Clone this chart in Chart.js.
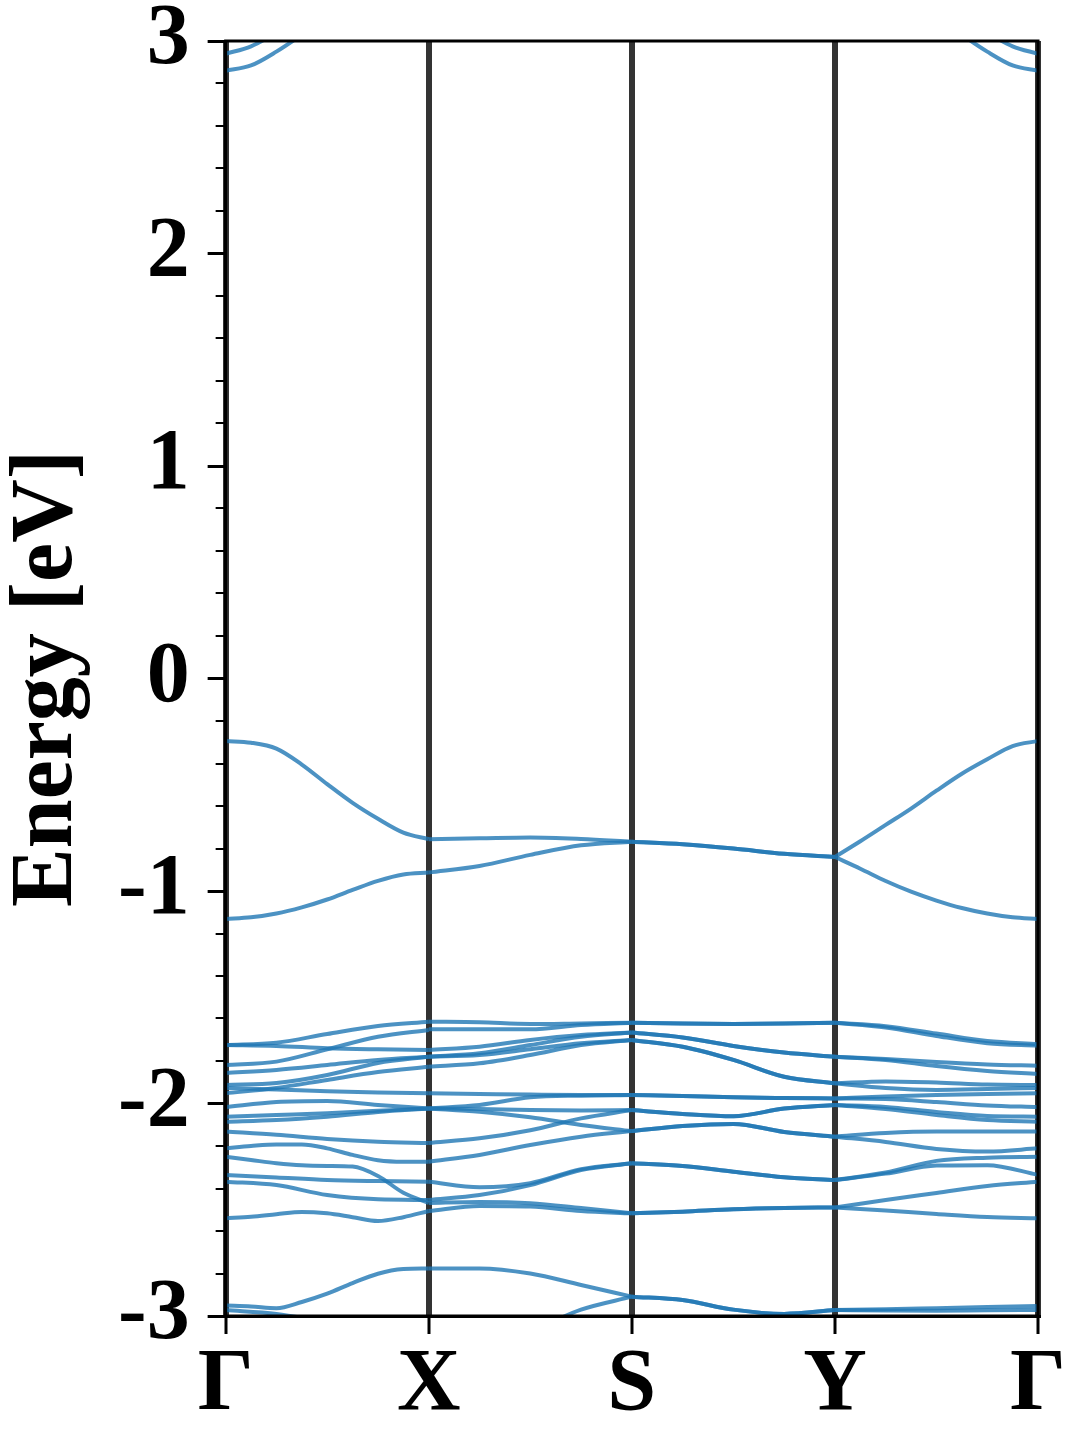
<!DOCTYPE html>
<html>
<head>
<meta charset="utf-8">
<script src="https://cdn.jsdelivr.net/npm/chart.js@4.4.1/dist/chart.umd.min.js"></script>
<style>
  html, body { margin: 0; padding: 0; background: #fff; }
  #wrap { width: 1080px; height: 1440px; }
</style>
</head>
<body>
<div id="wrap"><canvas id="bands" width="1080" height="1440"></canvas></div>
<script>
// High-symmetry path and axis ticks
const kLabels = ["Γ", "X", "S", "Y", "Γ"];
const kTicks = [0, 1, 2, 3, 4];
const energyTicks = [-3, -2, -1, 0, 1, 2, 3];
const minorStep = 0.2;

// Band energies (eV), sampled evenly along each segment of the path
const bandsGX = [
  [2.94, 2.975, 3.04, 3.12, 3.21, 3.30, 3.38, 3.44, 3.47],
  [2.86, 2.885, 2.95, 3.03, 3.12, 3.22, 3.32, 3.40, 3.45],
  [-0.294, -0.302, -0.330, -0.405, -0.497, -0.585, -0.660, -0.725, -0.756],
  [-1.132, -1.124, -1.106, -1.077, -1.040, -0.995, -0.952, -0.922, -0.913],
  [-1.725, -1.714, -1.673, -1.635, -1.615],
  [-1.725, -1.729, -1.740, -1.745, -1.748],
  [-1.819, -1.803, -1.745, -1.686, -1.654],
  [-1.857, -1.842, -1.819, -1.795, -1.780],
  [-1.913, -1.904, -1.866, -1.809, -1.780],
  [-1.952, -1.927, -1.889, -1.852, -1.827],
  [-1.927, -1.934, -1.942, -1.948, -1.952],
  [-2.017, -1.993, -1.988, -2.007, -2.023],
  [-2.062, -2.054, -2.046, -2.034, -2.023],
  [-2.086, -2.078, -2.062, -2.040, -2.023],
  [-2.132, -2.147, -2.167, -2.180, -2.186],
  [-2.211, -2.200, -2.193, -2.193, -2.211, -2.242, -2.267, -2.274, -2.274],
  [-2.251, -2.266, -2.281, -2.291, -2.294, -2.297, -2.341, -2.420, -2.468],
  [-2.336, -2.348, -2.360, -2.365, -2.368],
  [-2.368, -2.384, -2.431, -2.451, -2.454],
  [-2.540, -2.533, -2.521, -2.510, -2.517, -2.535, -2.553, -2.535, -2.506],
  [-2.951, -2.955, -2.963, -2.934, -2.895, -2.845, -2.801, -2.779, -2.776],
  [-2.972, -2.990, -3.030, -3.080, -3.100]
];

const bandsXS = [
  [-0.756, -0.752, -0.748, -0.755, -0.768],
  [-0.913, -0.882, -0.830, -0.785, -0.768],
  [-1.615, -1.618, -1.626, -1.623, -1.620],
  [-1.651, -1.651, -1.651, -1.631, -1.620],
  [-1.748, -1.733, -1.701, -1.678, -1.666],
  [-1.780, -1.764, -1.725, -1.686, -1.666],
  [-1.780, -1.772, -1.745, -1.717, -1.701],
  [-1.827, -1.811, -1.772, -1.725, -1.701],
  [-1.952, -1.955, -1.958, -1.960, -1.960],
  [-2.023, -2.007, -1.971, -1.963, -1.960],
  [-2.023, -2.039, -2.065, -2.101, -2.130],
  [-2.023, -2.026, -2.031, -2.033, -2.031],
  [-2.186, -2.164, -2.126, -2.070, -2.031],
  [-2.274, -2.242, -2.195, -2.156, -2.130],
  [-2.468, -2.463, -2.469, -2.492, -2.517],
  [-2.368, -2.394, -2.375, -2.309, -2.281],
  [-2.454, -2.431, -2.384, -2.313, -2.281],
  [-2.506, -2.482, -2.485, -2.506, -2.517],
  [-2.776, -2.776, -2.800, -2.854, -2.909],
  [-3.100, -3.120, -3.070, -2.970, -2.909]
];

// along S-Y the bands come in degenerate pairs
const bandsSY = [
  [-0.768, -0.780, -0.800, -0.825, -0.840],
  [-0.768, -0.780, -0.800, -0.825, -0.840],
  [-1.620, -1.624, -1.626, -1.624, -1.620],
  [-1.620, -1.624, -1.626, -1.624, -1.620],
  [-1.666, -1.689, -1.729, -1.760, -1.780],
  [-1.666, -1.689, -1.729, -1.760, -1.780],
  [-1.701, -1.733, -1.795, -1.874, -1.905],
  [-1.701, -1.733, -1.795, -1.874, -1.905],
  [-1.960, -1.965, -1.971, -1.974, -1.976],
  [-1.960, -1.965, -1.971, -1.974, -1.976],
  [-2.031, -2.049, -2.060, -2.024, -2.007],
  [-2.031, -2.049, -2.060, -2.024, -2.007],
  [-2.130, -2.106, -2.096, -2.134, -2.156],
  [-2.130, -2.106, -2.096, -2.134, -2.156],
  [-2.281, -2.294, -2.321, -2.347, -2.360],
  [-2.281, -2.294, -2.321, -2.347, -2.360],
  [-2.517, -2.509, -2.498, -2.492, -2.489],
  [-2.517, -2.509, -2.498, -2.492, -2.489],
  [-2.909, -2.925, -2.970, -2.990, -2.972],
  [-2.909, -2.925, -2.970, -2.990, -2.972]
];

const bandsYG = [
  [3.47, 3.44, 3.38, 3.30, 3.21, 3.12, 3.04, 2.975, 2.94],
  [3.45, 3.40, 3.32, 3.22, 3.12, 3.03, 2.95, 2.885, 2.86],
  [-0.840, -0.766, -0.689, -0.612, -0.528, -0.448, -0.380, -0.318, -0.294],
  [-0.840, -0.895, -0.953, -1.003, -1.045, -1.080, -1.106, -1.124, -1.132],
  [-1.620, -1.636, -1.671, -1.706, -1.720],
  [-1.620, -1.642, -1.682, -1.716, -1.728],
  [-1.780, -1.791, -1.805, -1.816, -1.822],
  [-1.780, -1.795, -1.824, -1.847, -1.861],
  [-1.905, -1.896, -1.901, -1.911, -1.913],
  [-1.905, -1.927, -1.936, -1.932, -1.927],
  [-1.976, -1.967, -1.960, -1.955, -1.952],
  [-1.976, -1.979, -1.993, -2.009, -2.017],
  [-2.007, -2.016, -2.040, -2.059, -2.062],
  [-2.007, -2.026, -2.054, -2.078, -2.086],
  [-2.156, -2.139, -2.132, -2.132, -2.132],
  [-2.156, -2.181, -2.214, -2.226, -2.211],
  [-2.360, -2.325, -2.270, -2.255, -2.251],
  [-2.360, -2.330, -2.292, -2.290, -2.336],
  [-2.489, -2.454, -2.421, -2.388, -2.368],
  [-2.489, -2.504, -2.520, -2.534, -2.540],
  [-2.972, -2.968, -2.963, -2.958, -2.953],
  [-2.972, -2.974, -2.975, -2.973, -2.972]
];

const segments = [bandsGX, bandsXS, bandsSY, bandsYG];
const bandColor = "rgba(31, 119, 180, 0.8)";
const serif = "'Liberation Serif', 'Times New Roman', serif";

const datasets = [];
segments.forEach((bands, s) => {
  bands.forEach((energies) => {
    datasets.push({
      data: energies.map((e, i) => ({ x: kTicks[s] + i / (energies.length - 1), y: e })),
      borderColor: bandColor,
      borderWidth: 4,
      pointRadius: 0,
      cubicInterpolationMode: "monotone",
      clip: 0,
    });
  });
});

// minor y ticks and the box around the plot
const framePlugin = {
  id: "frame",
  afterDraw(chart) {
    const { ctx, chartArea, scales } = chart;
    const y = scales.y;
    ctx.save();
    ctx.strokeStyle = "#000";
    ctx.lineWidth = 2;
    for (let v = y.min; v <= y.max + 1e-9; v += minorStep) {
      if (Math.abs(v - Math.round(v)) < 1e-6) continue;
      const py = Math.round(y.getPixelForValue(v));
      ctx.beginPath();
      ctx.moveTo(chartArea.left - 10, py);
      ctx.lineTo(chartArea.left, py);
      ctx.stroke();
    }
    ctx.lineWidth = 3;
    ctx.strokeRect(chartArea.left, chartArea.top, chartArea.right - chartArea.left, chartArea.bottom - chartArea.top);
    ctx.restore();
  },
};

new Chart(document.getElementById("bands").getContext("2d"), {
  type: "line",
  data: { datasets },
  plugins: [framePlugin],
  options: {
    responsive: false,
    animation: false,
    devicePixelRatio: 1,
    layout: { padding: { top: 41, right: 42, bottom: 2, left: 4 } },
    plugins: { legend: { display: false }, tooltip: { enabled: false } },
    scales: {
      x: {
        type: "linear",
        min: 0,
        max: 4,
        z: 1,
        afterBuildTicks: (scale) => { scale.ticks = kTicks.map((v) => ({ value: v })); },
        ticks: {
          callback: (v) => kLabels[v],
          color: "#000",
          font: { family: serif, weight: "bold", size: 88, lineHeight: 1 },
          padding: 8,
          maxRotation: 0,
          autoSkip: false,
        },
        grid: {
          color: "rgba(0, 0, 0, 0.8)",
          lineWidth: 6,
          tickColor: "#000",
          tickWidth: 3,
          tickLength: 18,
        },
        border: { color: "#000", width: 3 },
      },
      y: {
        min: -3,
        max: 3,
        afterBuildTicks: (scale) => { scale.ticks = energyTicks.map((v) => ({ value: v })); },
        ticks: {
          callback: (v) => String(v),
          color: "#000",
          font: { family: serif, weight: "bold", size: 86, lineHeight: 0.5 },
          padding: 18,
        },
        grid: {
          drawOnChartArea: false,
          tickColor: "#000",
          tickWidth: 3,
          tickLength: 18,
        },
        border: { color: "#000", width: 3 },
        title: {
          display: true,
          text: "Energy [eV]",
          color: "#000",
          font: { family: serif, weight: "bold", size: 88, lineHeight: 1 },
          padding: { top: 0, bottom: 8 },
        },
      },
    },
  },
});
</script>
</body>
</html>
